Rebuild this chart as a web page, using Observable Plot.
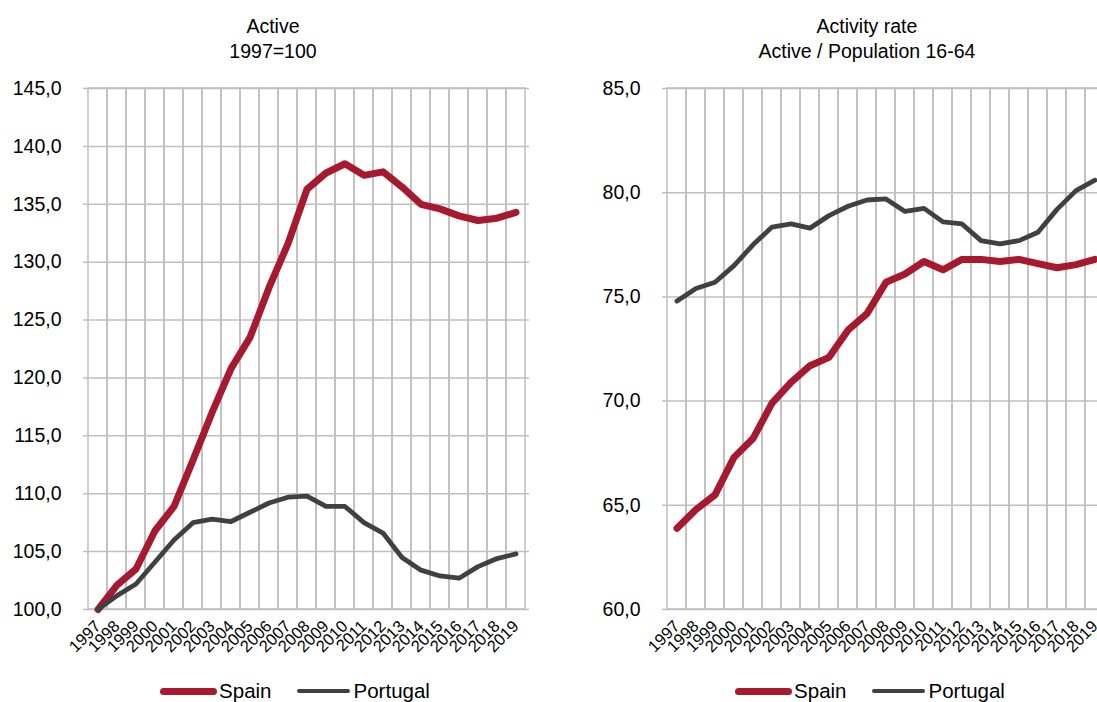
<!DOCTYPE html>
<html><head><meta charset="utf-8">
<script src="https://cdn.jsdelivr.net/npm/d3@7"></script>
<script src="https://cdn.jsdelivr.net/npm/@observablehq/plot@0.6"></script>
<style>
html,body{margin:0;padding:0;width:1097px;height:702px;overflow:hidden;background:#fff;font-family:"Liberation Sans",Arial,sans-serif;color:#000}
.panel{position:absolute;top:0;width:560px;height:702px}
.title{position:absolute;top:0;height:70px;font-size:19.5px;line-height:25px;text-align:center;padding-top:14px;box-sizing:border-box;white-space:nowrap}
.chart{position:absolute;top:70px;left:0;width:560px}
.chart svg{max-width:none !important}
.legend{position:absolute;top:676px;height:30px;display:flex;align-items:center;justify-content:center;font-size:20.5px;white-space:nowrap}
.sw{display:inline-block;border-radius:5px}
</style></head>
<body>
<div class="panel" id="p1" style="left:0">
  <div class="title" style="left:0;width:546px">Active<br>1997=100</div>
  <div class="chart" id="c1"></div>
  <div class="legend" style="left:0;width:590px">
    <span class="sw" style="width:57px;height:7px;background:#a6192e"></span><span style="margin-left:2px">Spain</span>
    <span class="sw" style="width:53px;height:4.5px;background:#404040;margin-left:25px"></span><span style="margin-left:4px">Portugal</span>
  </div>
</div>
<div class="panel" id="p2" style="left:580px">
  <div class="title" style="left:0;width:574px">Activity rate<br>Active / Population 16-64</div>
  <div class="chart" id="c2"></div>
  <div class="legend" style="left:0;width:580px">
    <span class="sw" style="width:57px;height:7px;background:#a6192e"></span><span style="margin-left:2px">Spain</span>
    <span class="sw" style="width:53px;height:4.5px;background:#404040;margin-left:25px"></span><span style="margin-left:4px">Portugal</span>
  </div>
</div>
<script>
const years = ["1997","1998","1999","2000","2001","2002","2003","2004","2005","2006","2007","2008",
  "2009","2010","2011","2012","2013","2014","2015","2016","2017","2018","2019"];
const seriesNames = ["Spain", "Portugal"];

// Panel 1: Active, 1997=100
const spainActive = [100.0, 102.1, 103.5, 106.8, 108.9, 112.9, 117.0, 120.8, 123.5, 127.8, 131.6, 136.3,
  137.7, 138.5, 137.5, 137.8, 136.5, 135.0, 134.6, 134.0, 133.6, 133.8, 134.3];
const portugalActive = [100.0, 101.2, 102.2, 104.1, 106.0, 107.5, 107.8, 107.6, 108.4, 109.2, 109.7, 109.8,
  108.9, 108.9, 107.5, 106.6, 104.5, 103.4, 102.9, 102.7, 103.7, 104.4, 104.8];
const activeTicks = [100, 105, 110, 115, 120, 125, 130, 135, 140, 145];

// Panel 2: Activity rate, Active / Population 16-64
const spainRate = [63.9, 64.8, 65.5, 67.3, 68.2, 69.9, 70.9, 71.7, 72.1, 73.4, 74.2, 75.7,
  76.1, 76.7, 76.3, 76.8, 76.8, 76.7, 76.8, 76.6, 76.4, 76.55, 76.8];
const portugalRate = [74.8, 75.4, 75.7, 76.5, 77.5, 78.35, 78.5, 78.3, 78.9, 79.35, 79.65, 79.7,
  79.1, 79.25, 78.6, 78.5, 77.7, 77.55, 77.7, 78.1, 79.2, 80.1, 80.6];
const rateTicks = [60, 65, 70, 75, 80, 85];

const colors = {Spain: "#a6192e", Portugal: "#404040"};
const widths = {Spain: 7, Portugal: 4.8};
const gridColor = "#bfbfbf";
const fmt = d => d.toFixed(1).replace(".", ",");

function makeChart(spain, portugal, ticks, ml, mr) {
  const rows = [];
  years.forEach((yr, i) => {
    rows.push({year: yr, series: "Spain", value: spain[i]});
    rows.push({year: yr, series: "Portugal", value: portugal[i]});
  });
  const yMin = ticks[0], yMax = ticks[ticks.length - 1];
  return Plot.plot({
    width: 560, height: 595,
    marginLeft: ml, marginRight: mr, marginTop: 18, marginBottom: 56,
    style: {fontFamily: '"Liberation Sans", Arial, sans-serif', color: "#000", background: "transparent"},
    x: {type: "band", domain: years, padding: 0, label: null},
    y: {domain: [yMin, yMax], label: null},
    marks: [
      Plot.gridY(ticks, {stroke: gridColor, strokeOpacity: 1, strokeWidth: 1.5}),
      Plot.barY(years, {x: d => d, y1: yMin, y2: yMax, fill: "none", stroke: gridColor, strokeWidth: 1.5}),
      Plot.axisY(ticks, {tickSize: 0, tickPadding: 22, tickFormat: fmt, fontSize: 19.5, label: null}),
      Plot.axisX({tickSize: 0, tickRotate: -45, tickPadding: 14, fontSize: 16.5, label: null}),
      ...seriesNames.map(s => Plot.line(rows.filter(r => r.series === s), {
        x: "year", y: "value", stroke: colors[s], strokeWidth: widths[s],
        strokeLinecap: "round", strokeLinejoin: "round"
      }))
    ]
  });
}

document.getElementById("c1").append(makeChart(spainActive, portugalActive, activeTicks, 83, 31));
document.getElementById("c2").append(makeChart(spainRate, portugalRate, rateTicks, 82, 32));
</script>
</body></html>
